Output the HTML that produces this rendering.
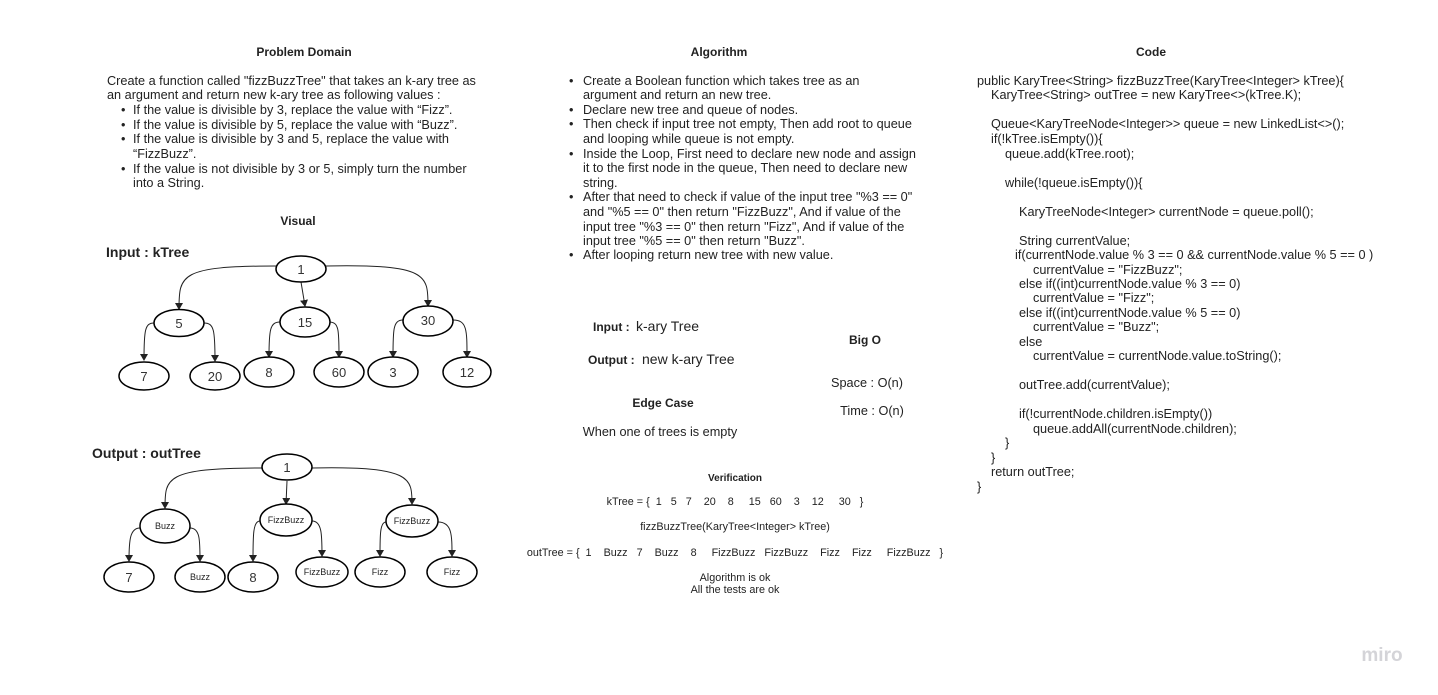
<!DOCTYPE html>
<html><head><meta charset="utf-8"><style>
html,body{margin:0;padding:0;background:#fff;}
svg{display:block;font-family:"Liberation Sans",Arial,sans-serif;}
</style></head><body>
<svg width="1438" height="695" viewBox="0 0 1438 695" xmlns="http://www.w3.org/2000/svg">
<defs><marker id="a" markerWidth="8" markerHeight="8" refX="6" refY="4" orient="auto" markerUnits="userSpaceOnUse"><path d="M0,0 L7,4 L0,8 Z" fill="#222"/></marker></defs>
<g font-size="12.7" fill="#222">
<text x="304" y="56" text-anchor="middle" font-weight="bold" font-size="12">Problem Domain</text>
<text x="107" y="85">Create a function called "fizzBuzzTree" that takes an  k-ary tree as</text>
<text x="107" y="99">an argument and return new k-ary tree as following values :</text>
<text x="121" y="114">•</text><text x="133" y="114">If the value is divisible by 3, replace the value with “Fizz”.</text>
<text x="121" y="129">•</text><text x="133" y="129">If the value is divisible by 5, replace the value with “Buzz”.</text>
<text x="121" y="143">•</text><text x="133" y="143">If the value is divisible by 3 and 5, replace the value with</text>
<text x="133" y="158">“FizzBuzz”.</text>
<text x="121" y="173">•</text><text x="133" y="173">If the value is not divisible by 3 or 5, simply turn the number</text>
<text x="133" y="187">into a String.</text>
<text x="298" y="225" text-anchor="middle" font-weight="bold" font-size="12">Visual</text>

<text x="719" y="56" text-anchor="middle" font-weight="bold" font-size="12">Algorithm</text>
<g>
<text x="569" y="85">•</text><text x="583" y="85">Create a Boolean function which takes tree as an</text>
<text x="583" y="99">argument and return an new tree.</text>
<text x="569" y="114">•</text><text x="583" y="114">Declare new tree and queue of nodes.</text>
<text x="569" y="128">•</text><text x="583" y="128">Then check if input tree not empty, Then add root to queue</text>
<text x="583" y="143">and looping while queue is not empty.</text>
<text x="569" y="158">•</text><text x="583" y="158">Inside the Loop, First need to declare new node and assign</text>
<text x="583" y="172">it to the first node in the queue, Then need to declare new</text>
<text x="583" y="187">string.</text>
<text x="569" y="201">•</text><text x="583" y="201">After that need to check if value of the input tree "%3 == 0"</text>
<text x="583" y="216">and "%5 == 0" then return "FizzBuzz", And if value of the</text>
<text x="583" y="231">input tree "%3 == 0" then return "Fizz", And if value of the</text>
<text x="583" y="245">input tree "%5 == 0" then return "Buzz".</text>
<text x="569" y="259">•</text><text x="583" y="259">After looping return new tree with new value.</text>
</g>

<text x="1151" y="56" text-anchor="middle" font-weight="bold" font-size="12">Code</text>
<g xml:space="preserve">
<text x="977" y="85">public KaryTree&lt;String&gt; fizzBuzzTree(KaryTree&lt;Integer&gt; kTree){</text>
<text x="991" y="99">KaryTree&lt;String&gt; outTree = new KaryTree&lt;&gt;(kTree.K);</text>
<text x="991" y="128">Queue&lt;KaryTreeNode&lt;Integer&gt;&gt; queue = new LinkedList&lt;&gt;();</text>
<text x="991" y="143">if(!kTree.isEmpty()){</text>
<text x="1005" y="158">queue.add(kTree.root);</text>
<text x="1005" y="187">while(!queue.isEmpty()){</text>
<text x="1019" y="216">KaryTreeNode&lt;Integer&gt; currentNode = queue.poll();</text>
<text x="1019" y="245">String currentValue;</text>
<text x="1015" y="259">if(currentNode.value % 3 == 0 &amp;&amp; currentNode.value % 5 == 0 )</text>
<text x="1033" y="274">currentValue = "FizzBuzz";</text>
<text x="1019" y="288">else if((int)currentNode.value % 3 == 0)</text>
<text x="1033" y="302">currentValue = "Fizz";</text>
<text x="1019" y="317">else if((int)currentNode.value % 5 == 0)</text>
<text x="1033" y="331">currentValue = "Buzz";</text>
<text x="1019" y="346">else</text>
<text x="1033" y="360">currentValue = currentNode.value.toString();</text>
<text x="1019" y="389">outTree.add(currentValue);</text>
<text x="1019" y="418">if(!currentNode.children.isEmpty())</text>
<text x="1033" y="433">queue.addAll(currentNode.children);</text>
<text x="1005" y="447">}</text>
<text x="991" y="462">}</text>
<text x="991" y="476">return outTree;</text>
<text x="977" y="491">}</text>
</g>

<text x="593" y="331" font-weight="bold" font-size="12">Input :</text><text x="636" y="331" font-size="14">k-ary Tree</text>
<text x="588" y="364" font-weight="bold" font-size="12">Output :</text><text x="642" y="364" font-size="14">new k-ary Tree</text>
<text x="663" y="407" text-anchor="middle" font-weight="bold" font-size="12">Edge Case</text>
<text x="660" y="436" text-anchor="middle">When one of trees is empty</text>
<text x="865" y="344" text-anchor="middle" font-weight="bold" font-size="12">Big O</text>
<text x="867" y="387" text-anchor="middle">Space : O(n)</text>
<text x="872" y="415" text-anchor="middle">Time : O(n)</text>

<g font-size="10.8" text-anchor="middle">
<text x="735" y="481" font-weight="bold" font-size="10">Verification</text>
<text x="735" y="505" xml:space="preserve">kTree = {  1   5   7    20    8     15   60    3    12     30   }</text>
<text x="735" y="530">fizzBuzzTree(KaryTree&lt;Integer&gt; kTree)</text>
<text x="735" y="556" xml:space="preserve">outTree = {  1    Buzz   7    Buzz    8     FizzBuzz   FizzBuzz    Fizz    Fizz     FizzBuzz   }</text>
<text x="735" y="581">Algorithm is ok</text>
<text x="735" y="593">All the tests are ok</text>
</g>

<text x="106" y="257" font-size="14" font-weight="bold">Input : kTree</text>
<text x="92" y="458" font-size="14" font-weight="bold">Output : outTree</text>
</g>

<g fill="none" stroke="#222" stroke-width="1" marker-end="url(#a)">
<path d="M276,266 C180,266 179,275 179,309"/>
<path d="M301,282 L305,306"/>
<path d="M326,266 C428,264 428,275 428,306"/>
<path d="M154,323 C145,323 144,330 144,360"/>
<path d="M204,323 C214,323 215,330 215,361"/>
<path d="M280,322 C270,322 269,330 269,357"/>
<path d="M329,322 C339,322 339,330 339,357"/>
<path d="M403,320 C393,320 393,330 393,357"/>
<path d="M453,320 C467,320 467,330 467,357"/>
<path d="M262,468 C165,468 165,478 165,508"/>
<path d="M287,481 L286,504"/>
<path d="M312,468 C412,466 412,478 412,504"/>
<path d="M140,528 C130,528 129,540 129,561"/>
<path d="M190,528 C200,528 200,540 200,561"/>
<path d="M260,521 C253,521 253,535 253,561"/>
<path d="M312,521 C322,521 322,535 322,556"/>
<path d="M386,522 C380,522 380,535 380,556"/>
<path d="M438,522 C452,522 452,535 452,556"/>
</g>

<g fill="#fff" stroke="#000" stroke-width="1.5">
<ellipse cx="301" cy="269" rx="25" ry="13"/>
<ellipse cx="179" cy="323" rx="25" ry="13.5"/>
<ellipse cx="305" cy="322" rx="25" ry="15"/>
<ellipse cx="428" cy="321" rx="25" ry="15"/>
<ellipse cx="144" cy="376" rx="25" ry="14"/>
<ellipse cx="215" cy="376" rx="25" ry="14"/>
<ellipse cx="269" cy="372" rx="25" ry="15"/>
<ellipse cx="339" cy="372" rx="25" ry="15"/>
<ellipse cx="393" cy="372" rx="25" ry="15"/>
<ellipse cx="467" cy="372" rx="24" ry="15"/>
<ellipse cx="287" cy="467" rx="25" ry="13"/>
<ellipse cx="165" cy="526" rx="25" ry="17"/>
<ellipse cx="286" cy="520" rx="26" ry="16"/>
<ellipse cx="412" cy="521" rx="26" ry="16"/>
<ellipse cx="129" cy="577" rx="25" ry="15"/>
<ellipse cx="200" cy="577" rx="25" ry="15"/>
<ellipse cx="253" cy="577" rx="25" ry="15"/>
<ellipse cx="322" cy="572" rx="26" ry="15"/>
<ellipse cx="380" cy="572" rx="25" ry="15"/>
<ellipse cx="452" cy="572" rx="25" ry="15"/>
</g>

<g font-size="13" fill="#333" text-anchor="middle">
<text x="301" y="274">1</text>
<text x="179" y="328">5</text>
<text x="305" y="327">15</text>
<text x="428" y="325">30</text>
<text x="144" y="381">7</text>
<text x="215" y="381">20</text>
<text x="269" y="377">8</text>
<text x="339" y="377">60</text>
<text x="393" y="377">3</text>
<text x="467" y="377">12</text>
<text x="287" y="472">1</text>
<text x="129" y="582">7</text>
<text x="253" y="582">8</text>
</g>
<g font-size="9" fill="#222" text-anchor="middle">
<text x="165" y="529">Buzz</text>
<text x="286" y="523">FizzBuzz</text>
<text x="412" y="524">FizzBuzz</text>
<text x="200" y="580">Buzz</text>
<text x="322" y="575">FizzBuzz</text>
<text x="380" y="575">Fizz</text>
<text x="452" y="575">Fizz</text>
</g>
<text x="1382" y="661" font-size="19" font-weight="bold" fill="#d4d4d8" text-anchor="middle">miro</text>
</svg>
</body></html>
